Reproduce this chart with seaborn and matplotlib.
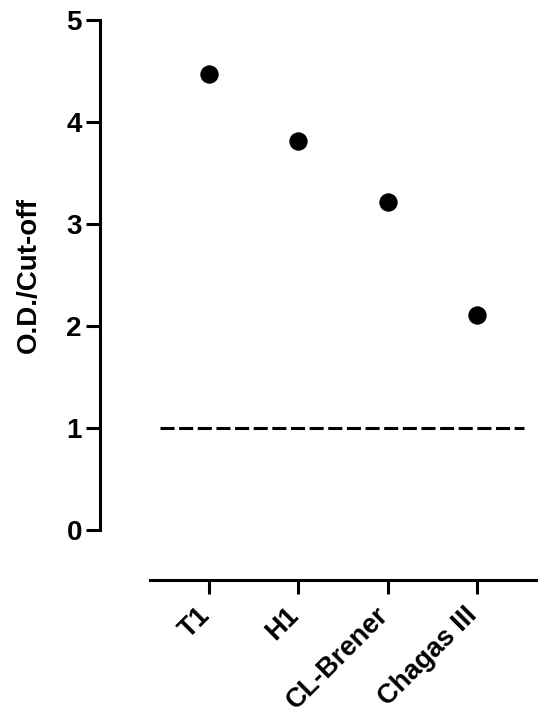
import matplotlib
matplotlib.use("Agg")
import matplotlib.pyplot as plt
import matplotlib.transforms as mtrans
import seaborn as sns
import pandas as pd

# data
strains = ["T1", "H1", "CL-Brener", "Chagas III"]
od_ratio = [4.47, 3.81, 3.22, 2.11]
cutoff = 1.0

sns.set_theme(style="ticks")
plt.rcParams['font.family'] = ['Liberation Sans', 'DejaVu Sans']
plt.rcParams['font.weight'] = 'bold'
for key in ['text.color', 'axes.labelcolor', 'xtick.color', 'ytick.color', 'axes.edgecolor']:
    plt.rcParams[key] = 'black'

df = pd.DataFrame({"strain": strains, "ratio": od_ratio})

fig = plt.figure(figsize=(5.5, 7.21), dpi=100)
ax = fig.add_axes([0.2727, 0.2649, 0.7018, 0.7074])

sns.scatterplot(data=df, x="strain", y="ratio", ax=ax, color="black",
                s=175, edgecolor="black", linewidth=0, zorder=3)

# cut-off line
ax.plot([-0.55, 3.53], [cutoff, cutoff], color="black", lw=2.2,
        linestyle=(0, (4.6, 1.5)), zorder=2)

ax.set_xlim(-0.66, 3.66)
ax.set_ylim(0, 5)
ax.set_yticks([0, 1, 2, 3, 4, 5])

ax.spines['top'].set_visible(False)
ax.spines['right'].set_visible(False)
ax.spines['left'].set_position(('outward', 36))
ax.spines['bottom'].set_position(('outward', 36))
for side in ['left', 'bottom']:
    ax.spines[side].set_linewidth(2.2)

ax.tick_params(axis='y', width=2.2, length=10, labelsize=20, pad=3)
ax.tick_params(axis='x', width=2.2, length=10, labelsize=19.5, pad=6)
for lab in ax.get_yticklabels():
    lab.set_fontweight('bold')
ax.set_xticks(range(len(strains)))
ax.set_xticklabels(strains, rotation=45, ha='right', fontsize=19.5, fontweight='bold')
shift = mtrans.ScaledTranslation(0.06, 0, fig.dpi_scale_trans)
for lab in ax.get_xticklabels():
    lab.set_transform(lab.get_transform() + shift)

ax.set_xlabel("")
ax.set_ylabel("O.D./Cut-off", fontsize=20, fontweight='bold', labelpad=18)

fig.savefig("out.png", dpi=100)
